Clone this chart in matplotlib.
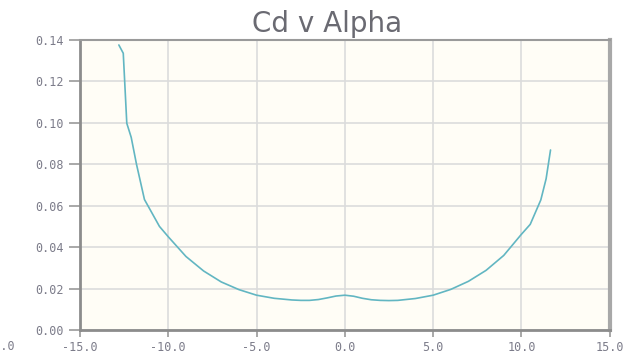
import numpy as np
import matplotlib.pyplot as plt
import matplotlib.transforms as mtransforms

# drag polar: angle of attack (deg) vs drag coefficient
alpha = [-12.8, -12.55, -12.35, -12.1, -11.8, -11.35, -10.5, -10.0, -9.0, -8.0,
         -7.0, -6.0, -5.0, -4.0, -3.0, -2.5, -2.0, -1.5, -1.0, -0.5,
         0.0, 0.5, 1.0, 1.5, 2.0, 2.5, 3.0, 4.0, 5.0, 6.0,
         7.0, 8.0, 9.0, 10.0, 10.5, 11.1, 11.4, 11.65]
cd = [0.1376, 0.1336, 0.0998, 0.0930, 0.0800, 0.0630, 0.0500, 0.0450, 0.0355, 0.0285,
      0.0232, 0.0195, 0.0168, 0.0153, 0.0145, 0.0143, 0.0143, 0.0147, 0.0155, 0.0164,
      0.0168, 0.0163, 0.0153, 0.0146, 0.0143, 0.0142, 0.0143, 0.0152, 0.0168, 0.0196,
      0.0235, 0.0288, 0.0360, 0.0462, 0.0510, 0.0628, 0.0730, 0.0869]

xticks = [-15, -10, -5, 0, 5, 10, 15]
yticks = [0.00, 0.02, 0.04, 0.06, 0.08, 0.10, 0.12, 0.14]

text_col = '#7c7c8a'

fig = plt.figure(figsize=(6.38, 3.54), dpi=100)
ax = fig.add_axes([0.1254, 0.0678, 0.8302, 0.8192])
ax.set_facecolor('#fffdf6')

ax.plot(alpha, cd, color='#62b6c2', lw=1.2, solid_capstyle='round')

ax.set_xlim(-15, 15)
ax.set_ylim(0, 0.14)
ax.set_xticks(xticks)
ax.set_xticklabels(['%.1f' % v for v in xticks])
ax.set_yticks(yticks)
ax.set_yticklabels(['%.2f' % v for v in yticks])
ax.grid(True, color='#dcdcdc', lw=1.2)
ax.set_axisbelow(True)

ax.tick_params(axis='both', colors='#999999', labelcolor=text_col, direction='out',
               labelsize=8.5)
ax.tick_params(axis='y', length=8, pad=4, width=1.2)
ax.tick_params(axis='x', length=5, pad=3, width=1.2)
for lab in ax.get_xticklabels() + ax.get_yticklabels():
    lab.set_family('DejaVu Sans Mono')

# partially hidden label left of the axis range
trans = mtransforms.blended_transform_factory(ax.transData, ax.transAxes)
ax.text(-18.7, -0.035, '-20.0', transform=trans, ha='right', va='top',
        fontsize=8.5, color=text_col, family='DejaVu Sans Mono', clip_on=False)

ax.spines['left'].set_color('#8c8c8c')
ax.spines['left'].set_linewidth(2)
ax.spines['bottom'].set_color('#8c8c8c')
ax.spines['bottom'].set_linewidth(2)
ax.spines['top'].set_color('#9a9a9a')
ax.spines['top'].set_linewidth(1.5)
ax.spines['right'].set_color('#a8a8a8')
ax.spines['right'].set_linewidth(3)

fig.text(0.5125, 0.91, 'Cd v Alpha', ha='center', va='baseline', fontsize=20,
         color='#6a6a72')

fig.savefig('out.png', dpi=100, facecolor='white')
